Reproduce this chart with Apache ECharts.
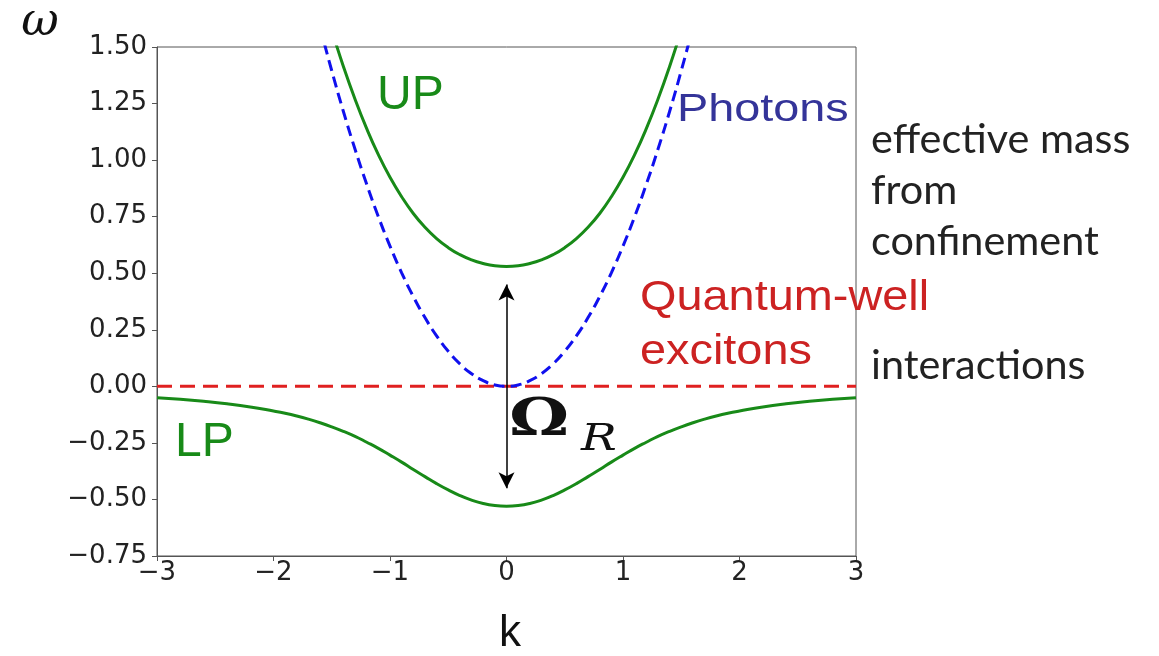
<!DOCTYPE html>
<html><head><meta charset="utf-8">
<script src="https://cdn.jsdelivr.net/npm/echarts@6/dist/echarts.min.js"></script>
<style>html,body{margin:0;padding:0;background:#fff}#c{width:1159px;height:656px}</style>
</head><body><div id="c"></div>
<script>
// wavevector samples (k) and energies
const kPhoton = [-1.6,-1.5,-1.4,-1.3,-1.2,-1.1,-1.0,-0.9,-0.8,-0.7,-0.6,-0.5,-0.4,-0.3,-0.2,-0.1,0,0.1,0.2,0.3,0.4,0.5,0.6,0.7,0.8,0.9,1.0,1.1,1.2,1.3,1.4,1.5,1.6];
const photonW = [1.587,1.395,1.215,1.048,0.893,0.750,0.620,0.502,0.397,0.304,0.223,0.155,0.099,0.056,0.025,0.006,0,0.006,0.025,0.056,0.099,0.155,0.223,0.304,0.397,0.502,0.620,0.750,0.893,1.048,1.215,1.395,1.587];
const kUP = [-1.5,-1.4,-1.3,-1.2,-1.1,-1.0,-0.9,-0.8,-0.7,-0.6,-0.5,-0.4,-0.3,-0.2,-0.1,0,0.1,0.2,0.3,0.4,0.5,0.6,0.7,0.8,0.9,1.0,1.1,1.2,1.3,1.4,1.5];
const upW = [1.574,1.414,1.269,1.139,1.024,0.924,0.838,0.764,0.703,0.653,0.613,0.582,0.559,0.543,0.533,0.530,0.533,0.543,0.559,0.582,0.613,0.653,0.703,0.764,0.838,0.924,1.024,1.139,1.269,1.414,1.574];
const kLP = [-3.0,-2.8,-2.6,-2.4,-2.2,-2.0,-1.9,-1.8,-1.7,-1.6,-1.5,-1.4,-1.3,-1.2,-1.1,-1.0,-0.9,-0.8,-0.7,-0.6,-0.5,-0.4,-0.3,-0.2,-0.1,0,0.1,0.2,0.3,0.4,0.5,0.6,0.7,0.8,0.9,1.0,1.1,1.2,1.3,1.4,1.5,1.6,1.7,1.8,1.9,2.0,2.2,2.4,2.6,2.8,3.0];
const lpW = [-0.050,-0.057,-0.066,-0.077,-0.091,-0.109,-0.119,-0.131,-0.145,-0.161,-0.179,-0.199,-0.221,-0.247,-0.274,-0.304,-0.335,-0.368,-0.399,-0.430,-0.458,-0.483,-0.503,-0.518,-0.527,-0.530,-0.527,-0.518,-0.503,-0.483,-0.458,-0.430,-0.399,-0.368,-0.335,-0.304,-0.274,-0.247,-0.221,-0.199,-0.179,-0.161,-0.145,-0.131,-0.119,-0.109,-0.091,-0.077,-0.066,-0.057,-0.050];
const kExciton = [-3, 3];
const excitonW = [0, 0];
const rabiArrow = [0.45, -0.45]; // ends of the Omega_R arrow at k = 0
const xTicks = {min: -3, max: 3, step: 1};
const yTicks = {min: -0.75, max: 1.5, step: 0.25};

const pairs = (xs, ys) => xs.map((x, i) => [x, ys[i]]);
const minus = s => String(s).replace('-', '\u2212');

const chart = echarts.init(document.getElementById('c'), null, {renderer: 'canvas'});
const GREEN = '#188a18';
chart.setOption({
  animation: false,
  backgroundColor: '#fff',
  grid: {left: 157, right: 303, top: 47, bottom: 100, show: true, borderColor: '#555', borderWidth: 1, containLabel: false},
  xAxis: {
    type: 'value', min: xTicks.min, max: xTicks.max, interval: xTicks.step,
    axisLine: {show: true, onZero: false, lineStyle: {color: '#555', width: 1}},
    axisTick: {show: true, length: 5, lineStyle: {color: '#555'}},
    splitLine: {show: false},
    axisLabel: {color: '#222', fontFamily: 'DejaVu Sans', fontSize: 26, margin: 4, formatter: v => minus(v)}
  },
  yAxis: {
    type: 'value', min: yTicks.min, max: yTicks.max, interval: yTicks.step,
    axisLine: {show: true, onZero: false, lineStyle: {color: '#555', width: 1}},
    axisTick: {show: true, length: 5, lineStyle: {color: '#555'}},
    splitLine: {show: false},
    axisLabel: {color: '#222', fontFamily: 'DejaVu Sans', fontSize: 26, margin: 10, formatter: v => minus(v.toFixed(2))}
  },
  series: [
    {type: 'line', data: pairs(kExciton, excitonW), showSymbol: false, symbol: 'none',
     lineStyle: {color: '#e02020', width: 3, type: [15, 8]}, z: 3},
    {type: 'line', data: pairs(kPhoton, photonW), showSymbol: false, symbol: 'none', smooth: true,
     lineStyle: {color: '#1010ee', width: 3, type: [11, 6]}, z: 4},
    {type: 'line', data: pairs(kUP, upW), showSymbol: false, symbol: 'none', smooth: true,
     lineStyle: {color: GREEN, width: 3}, z: 5},
    {type: 'line', data: pairs(kLP, lpW), showSymbol: false, symbol: 'none', smooth: true,
     lineStyle: {color: GREEN, width: 3}, z: 5,
     markLine: {
       silent: true, symbol: ['arrow', 'arrow'], symbolSize: [12, 16], label: {show: false},
       lineStyle: {color: '#000', width: 1.5, type: 'solid'},
       data: [[{coord: [0, rabiArrow[0]]}, {coord: [0, rabiArrow[1]]}]]
     }}
  ],
  graphic: [
    {type: 'text', x: 377, y: 96, style: {text: 'UP', font: '48px "Liberation Sans"', fill: GREEN, verticalAlign: 'middle'}},
    {type: 'text', x: 677, y: 110, scaleX: 1.2, style: {text: 'Photons', font: '39px "Liberation Sans"', fill: '#343499', verticalAlign: 'middle'}},
    {type: 'text', x: 640, y: 298, scaleX: 1.09, style: {text: 'Quantum-well', font: '43px "Liberation Sans"', fill: '#cc2222', verticalAlign: 'middle'}},
    {type: 'text', x: 640, y: 352, scaleX: 1.09, style: {text: 'excitons', font: '43px "Liberation Sans"', fill: '#cc2222', verticalAlign: 'middle'}},
    {type: 'text', x: 175, y: 443, style: {text: 'LP', font: '48px "Liberation Sans"', fill: GREEN, verticalAlign: 'middle'}},
    {type: 'text', x: 510, y: 634, style: {text: 'k', font: '44px "Liberation Sans"', fill: '#111', align: 'center', verticalAlign: 'middle'}},
    {type: 'text', x: 40, y: 23, style: {text: 'ω', font: 'italic 46px "DejaVu Serif"', fill: '#111', align: 'center', verticalAlign: 'middle'}},
    {type: 'text', x: 509, y: 421, scaleX: 1.3, style: {text: 'Ω', font: 'bold 52px "DejaVu Serif"', fill: '#111', verticalAlign: 'middle'}},
    {type: 'text', x: 581, y: 440, scaleX: 1.25, style: {text: 'R', font: 'italic 38px "DejaVu Serif"', fill: '#111', verticalAlign: 'middle'}},
    {type: 'text', x: 871, y: 140, scaleX: 1.035, style: {text: 'effective mass', font: '40px Lato', fill: '#222', verticalAlign: 'middle'}},
    {type: 'text', x: 871, y: 191, scaleX: 1.035, style: {text: 'from', font: '40px Lato', fill: '#222', verticalAlign: 'middle'}},
    {type: 'text', x: 871, y: 242, scaleX: 1.035, style: {text: 'confinement', font: '40px Lato', fill: '#222', verticalAlign: 'middle'}},
    {type: 'text', x: 871, y: 366, scaleX: 1.035, style: {text: 'interactions', font: '40px Lato', fill: '#222', verticalAlign: 'middle'}}
  ]
});
</script></body></html>
